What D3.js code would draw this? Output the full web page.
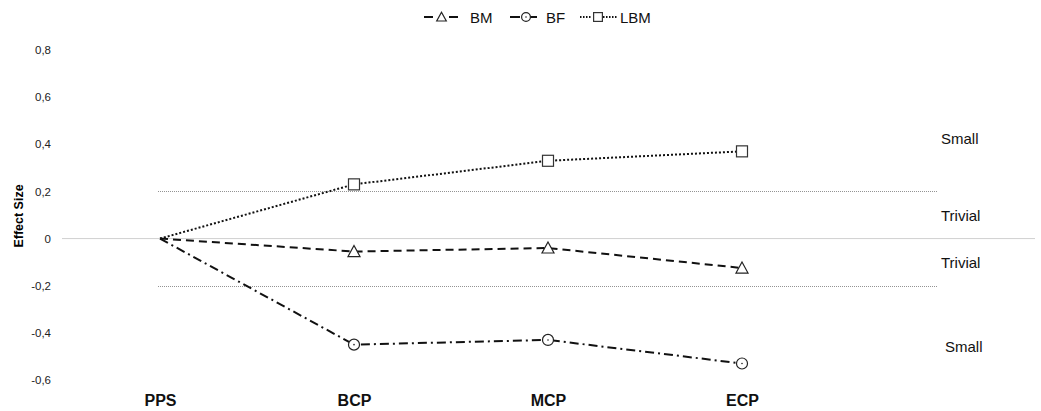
<!DOCTYPE html>
<html><head><meta charset="utf-8">
<script src="https://cdn.jsdelivr.net/npm/d3@7"></script>
<style>body{margin:0;background:#fff}svg{display:block}</style>
</head><body>
<svg id="c" width="1041" height="411"></svg>
<script>
const categories = ["PPS","BCP","MCP","ECP"];
const seriesNames = ["BM","BF","LBM"];
const bmValues = [0, -0.055, -0.04, -0.125];
const bfValues = [0, -0.45, -0.43, -0.53];
const lbmValues = [0, 0.23, 0.33, 0.37];
const yTicks = [0.8,0.6,0.4,0.2,0,-0.2,-0.4,-0.6];
const thresholds = [0.2,-0.2];
const zoneLabels = [{t:"Small",v:0.424,dx:0},{t:"Trivial",v:0.097,dx:0},{t:"Trivial",v:-0.10,dx:0},{t:"Small",v:-0.458,dx:4}];

const svg = d3.select("#c");
const font = "'Liberation Sans', Arial, sans-serif";
const x = d3.scalePoint().domain(categories).range([160,742]);
const y = d3.scaleLinear().domain([-0.6,0.8]).range([380,50]);

// y tick labels
const yAxis = d3.axisLeft(y).tickValues(yTicks).tickSize(0).tickPadding(0)
  .tickFormat(d => d===0 ? "0" : d3.format(".1f")(d).replace(".",",").replace("−","-"));
const ya = svg.append("g").attr("transform","translate(51,0)").call(yAxis);
ya.select(".domain").remove();
ya.selectAll("text").attr("font-family",font).attr("font-size",11.5).attr("fill","#222");

// zero line
svg.append("line").attr("x1",62).attr("x2",1035).attr("y1",y(0)).attr("y2",y(0))
  .attr("stroke","#d0d0d0").attr("stroke-width",1);
// thresholds
svg.selectAll(".th").data(thresholds).enter().append("line")
  .attr("x1",158).attr("x2",937).attr("y1",d=>Math.round(y(d))+0.5).attr("y2",d=>Math.round(y(d))+0.5)
  .attr("stroke","#777").attr("stroke-width",0.8).attr("stroke-dasharray","1,1");

// x category labels
const xAxis = d3.axisBottom(x).tickSize(0).tickPadding(0);
const xa = svg.append("g").attr("transform","translate(0,395)").call(xAxis);
xa.select(".domain").remove();
xa.selectAll("text").attr("font-family",font).attr("font-size",16).attr("font-weight","bold").attr("fill","#111");

// y title
svg.append("text").attr("transform",`translate(23,216) rotate(-90)`).attr("text-anchor","middle")
  .attr("font-family",font).attr("font-size",12.5).attr("font-weight","bold").text("Effect Size");

// zone labels
svg.selectAll(".zl").data(zoneLabels).enter().append("text")
  .attr("x",d=>941+d.dx).attr("y",d=>y(d.v)+5.5).attr("font-family",font).attr("font-size",15)
  .attr("fill","#111").text(d=>d.t);

const styles = {
  BM:{vals:bmValues, dash:"8,5", marker:"triangle"},
  BF:{vals:bfValues, dash:"9,4,2,4", marker:"circle"},
  LBM:{vals:lbmValues, dash:"2,2", marker:"square"}
};
const line = d3.line().x((d,i)=>x(categories[i])).y(d=>y(d));

function drawMarker(g, type, cx, cy, k){
  k = k || 1;
  if(type==="triangle"){
    g.append("path").attr("d",`M${cx},${cy-6*k}L${cx+6*k},${cy+5*k}L${cx-6*k},${cy+5*k}Z`)
      .attr("fill","#fff").attr("stroke","#222").attr("stroke-width",1.2);
  } else if(type==="circle"){
    g.append("circle").attr("cx",cx).attr("cy",cy).attr("r",5.5*k).attr("fill","#fff").attr("stroke","#222").attr("stroke-width",1.2);
    g.append("circle").attr("cx",cx).attr("cy",cy).attr("r",0.8).attr("fill","#222");
  } else {
    g.append("rect").attr("x",cx-5.5*k).attr("y",cy-5.5*k).attr("width",11*k).attr("height",11*k)
      .attr("fill","#fff").attr("stroke","#333").attr("stroke-width",1.2);
  }
}

seriesNames.forEach(n=>{
  const s = styles[n];
  svg.append("path").datum(s.vals).attr("d",line).attr("fill","none").attr("stroke","#111")
    .attr("stroke-width",2).attr("stroke-dasharray",s.dash);
  const g = svg.append("g");
  s.vals.forEach((v,i)=>{ if(i>0) drawMarker(g,s.marker,x(categories[i]),y(v)); });
});

// legend
const leg = [
  {n:"BM", segs:[[424,433],[449,458]], mx:441.5, tx:470},
  {n:"BF", segs:[[510,520],[530,537]], mx:526, tx:546},
  {n:"LBM", segs:[[580,592],[603,617]], mx:598, tx:620}
];
const ly = 17;
leg.forEach(l=>{
  const s = styles[l.n];
  const g = svg.append("g");
  l.segs.forEach(sg=>{
    g.append("line").attr("x1",sg[0]).attr("x2",sg[1]).attr("y1",ly).attr("y2",ly).attr("stroke","#111")
      .attr("stroke-width",2).attr("stroke-dasharray", l.n==="LBM"?"1.5,1.5":null);
  });
  drawMarker(g,s.marker,l.mx,ly,0.8);
  g.append("text").attr("x",l.tx).attr("y",ly+5.5).attr("font-family",font).attr("font-size",15).attr("fill","#111").text(l.n);
});
</script>
</body></html>
